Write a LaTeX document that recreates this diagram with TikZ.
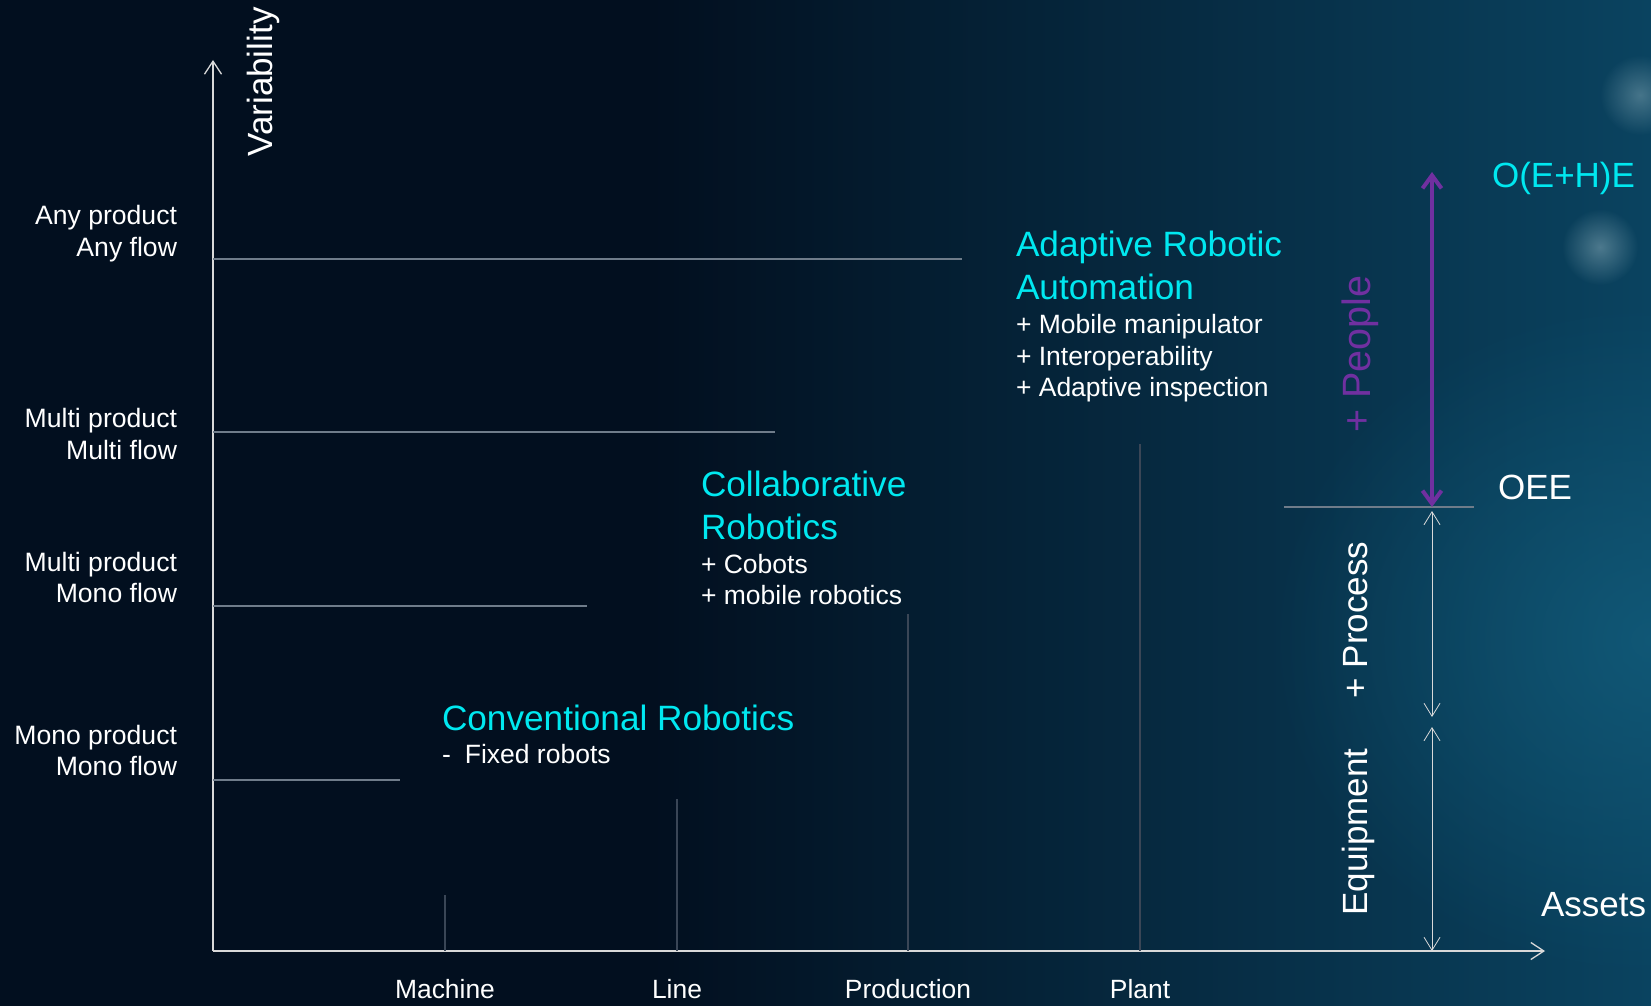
\documentclass[tikz,border=0pt]{standalone}
\usepackage{fontspec}
\setmainfont{Liberation Sans}
\usetikzlibrary{positioning}
\usetikzlibrary{arrows.meta, fadings}
\definecolor{bgdark}{HTML}{020F1F}
\definecolor{bgteal}{HTML}{0A4360}
\definecolor{bgglow}{HTML}{13607F}
\definecolor{spotcol}{HTML}{8FB2BE}
\definecolor{cyantxt}{HTML}{00E8F0}
\definecolor{peoplepurple}{HTML}{7030A0}
\definecolor{gridgray}{HTML}{6F7C8A}
\definecolor{tickgray}{HTML}{3A4656}
\definecolor{axisgray}{HTML}{D9D9D9}
\tikzfading[name=softspot, inner color=transparent!0, outer color=transparent!100]
\tikzset{
	every node/.style={inner sep=0pt,outer sep=0pt,text=white},
	lab/.style={font=\fontsize{26.6}{31.5}\selectfont,align=right,anchor=north east},
	body/.style={font=\fontsize{26.5}{31.5}\selectfont,align=left,anchor=north west},
	head/.style={font=\fontsize{35.2}{43}\selectfont,align=left,anchor=north west,text=cyantxt},
	small/.style={font=\fontsize{26.4}{31}\selectfont,anchor=base},
	big/.style={font=\fontsize{35}{42}\selectfont},
	axis/.style={draw=axisgray,line width=1.3pt,-{Straight Barb[length=13pt,width=17pt]}},
	grid/.style={draw=gridgray,line width=1.1pt},
	tick/.style={draw=tickgray,line width=1.5pt},
	span/.style={draw=axisgray,line width=0.8pt,{Straight Barb[length=13pt,width=16pt]}-{Straight Barb[length=13pt,width=16pt]}},
	gain/.style={draw=peoplepurple,line width=4pt,{Straight Barb[length=13pt,width=19pt]}-{Straight Barb[length=13pt,width=19pt]}}
}

\begin{document}
\begin{tikzpicture}[x=1pt,y=-1pt]
	% backdrop
	\useasboundingbox (0,0) rectangle (1651,1006);
	\fill[bgdark] (0,0) rectangle (1651,1006);
	\shade[left color=bgdark,right color=bgteal] (650,0) rectangle (1651,1006);
	\fill[bgglow,path fading=softspot,opacity=0.7] (1651,640) ellipse (380 and 340);
	\fill[spotcol,path fading=softspot,opacity=0.5] (1600,247) circle (38);
	\fill[spotcol,path fading=softspot,opacity=0.45] (1640,95) circle (40);
	
	% axes
	\coordinate (orig) at (213,951);
	\coordinate (ytip) at (213,60);
	\coordinate (xtip) at (1545,951);
	\draw[axis] (orig) -- (ytip);
	\draw[axis] (orig) -- (xtip);
	\node[big,rotate=90,anchor=base] (var) at (272,82) {Variability};
	\node[big,anchor=base west] (assets) at (1541,916) {Assets};
	
	% variability levels
	\coordinate (g1) at (962,259);
	\coordinate (g2) at (775,432);
	\coordinate (g3) at (587,606);
	\coordinate (g4) at (400,780);
	\draw[grid] (orig |- g1) -- (g1);
	\draw[grid] (orig |- g2) -- (g2);
	\draw[grid] (orig |- g3) -- (g3);
	\draw[grid] (orig |- g4) -- (g4);
	\node[lab] (anyany) at (177,205.5) {Any product\\Any flow};
	\node[lab] (multimulti) at (177,408.5) {Multi product\\Multi flow};
	\node[lab] (multimono) at (177,552) {Multi product\\Mono flow};
	\node[lab] (monomono) at (177,725) {Mono product\\Mono flow};
	
	% asset levels
	\coordinate (t1) at (445,895);
	\coordinate (t2) at (677,799);
	\coordinate (t3) at (908,614);
	\coordinate (t4) at (1140,444);
	\draw[tick] (t1) -- (t1 |- orig);
	\draw[tick] (t2) -- (t2 |- orig);
	\draw[tick] (t3) -- (t3 |- orig);
	\draw[tick] (t4) -- (t4 |- orig);
	\node[small] (machine) at (445,998) {Machine};
	\node[small] (line) at (677,998) {Line};
	\node[small] (prod) at (908,998) {Production};
	\node[small] (plant) at (1140,998) {Plant};
	
	% robotics generations
	\node[head] (conv) at (442,705) {Conventional Robotics};
	\node[body] (convtxt) at (442,744) {-\hspace{14pt}Fixed robots};
	\node[head] (collab) at (701,471) {Collaborative\\Robotics};
	\node[body] (collabtxt) at (701,554) {+ Cobots\\+ mobile robotics};
	\node[head] (adapt) at (1016,231) {Adaptive Robotic\\Automation};
	\node[body] (adapttxt) at (1016,314.5) {+ Mobile manipulator\\+ Interoperability\\+ Adaptive inspection};
	
	% effectiveness
	\coordinate (oeeL) at (1284,507);
	\coordinate (oeeR) at (1474,507);
	\draw[grid] (oeeL) -- (oeeR);
	\coordinate (pTop) at (1432,172);
	\coordinate (pBot) at (1432,507);
	\coordinate (procTop) at (1432,511);
	\coordinate (procBot) at (1432,717);
	\coordinate (eqTop) at (1432,727);
	\draw[gain] (pTop) -- (pBot);
	\draw[span] (procTop) -- (procBot);
	\draw[span] (eqTop) -- (eqTop |- orig);
	\node[big,anchor=base west,text=cyantxt] (oehe) at (1492,187) {O(E+H)E};
	\node[big,anchor=base west] (oee) at (1498,499) {OEE};
	\node[big,font=\fontsize{39.5}{46}\selectfont,rotate=90,anchor=base,text=peoplepurple] (people) at (1370,354) {+ People};
	\node[big,rotate=90,anchor=base] (process) at (1367,620) {+ Process};
	\node[big,rotate=90,anchor=base] (equip) at (1367,832) {Equipment};
	
\end{tikzpicture}
\end{document}
